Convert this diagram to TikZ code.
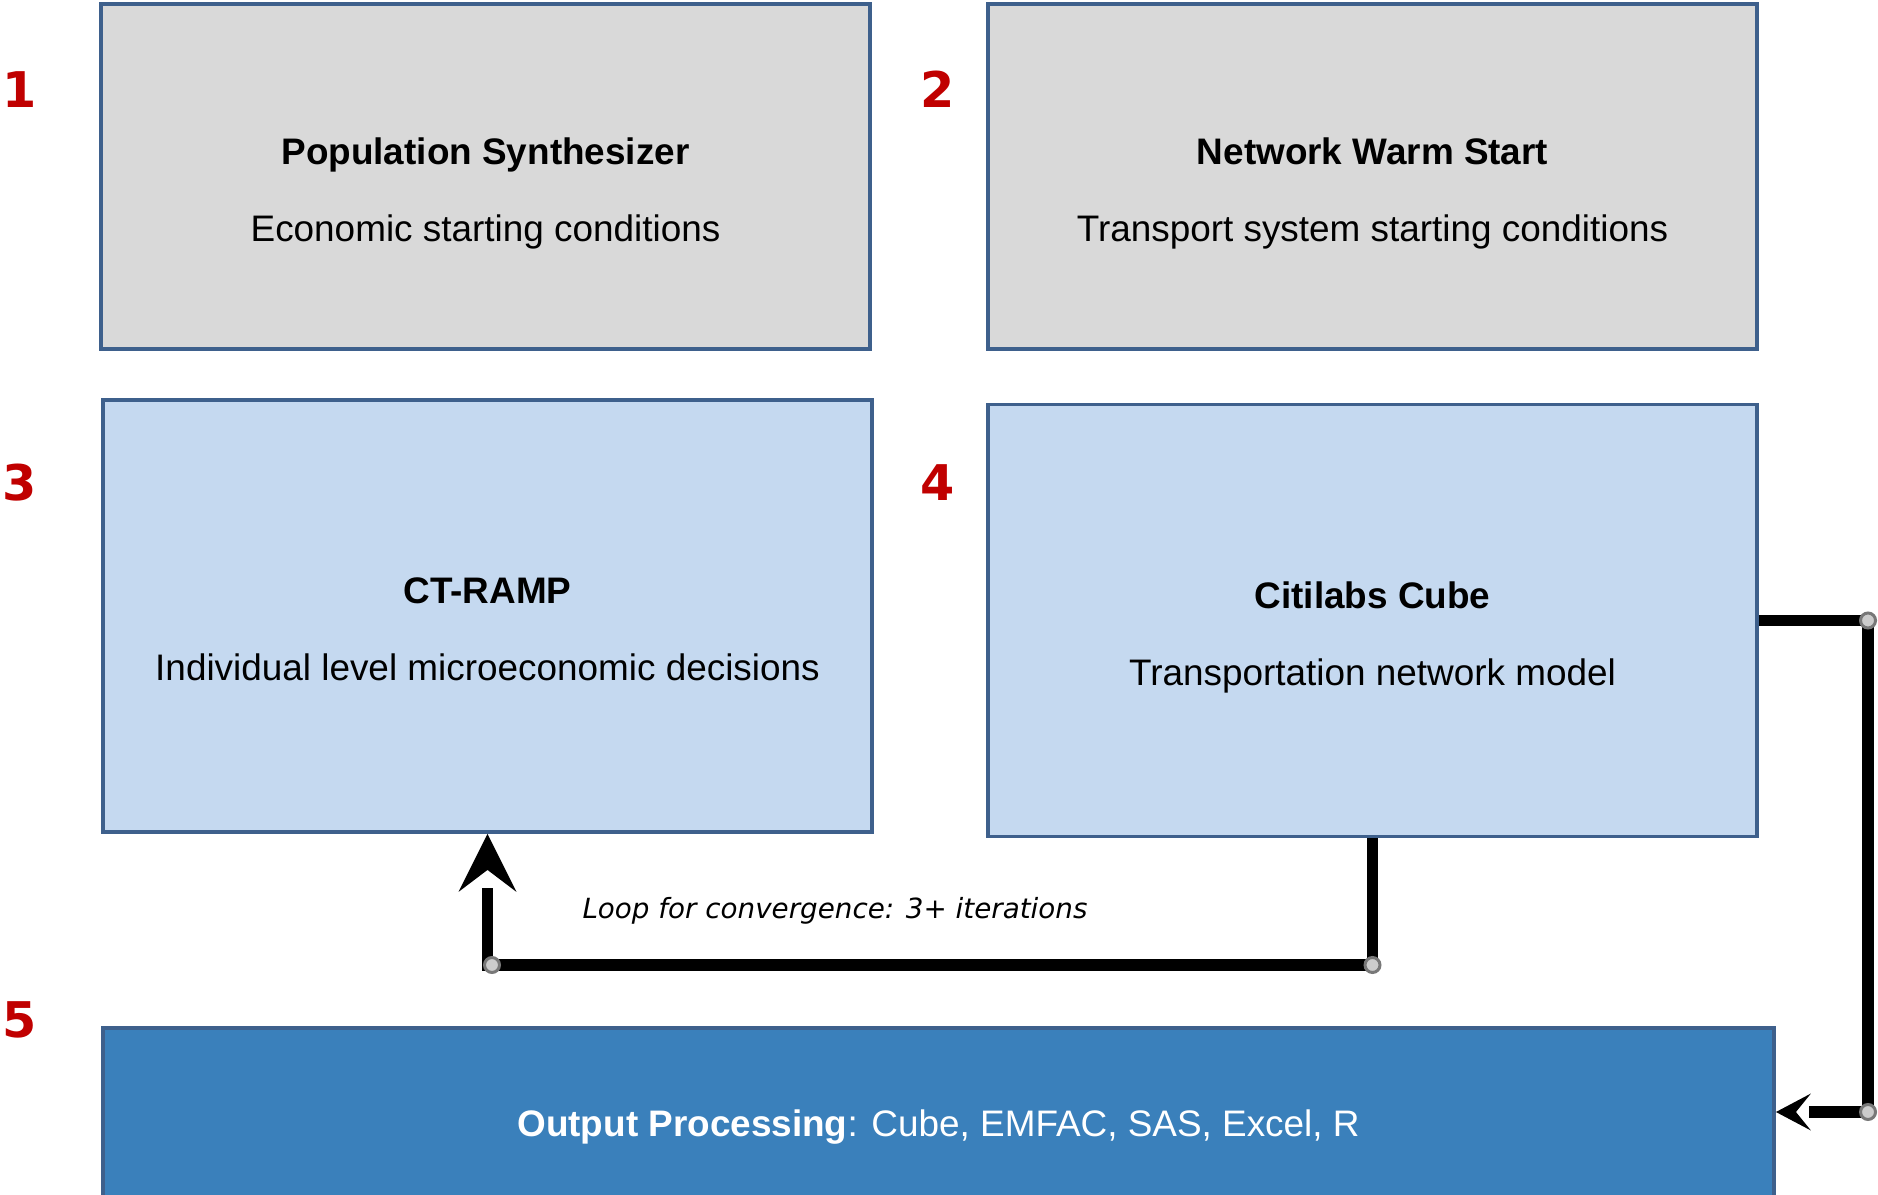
\documentclass[tikz,border=0pt]{standalone}
\usepackage{fontspec}
\setmainfont{Liberation Sans}
\newfontfamily\dejavu{DejaVu Sans}
\usepackage{tikz}
\usetikzlibrary{arrows.meta,positioning}
\definecolor{greyfill}{RGB}{217,217,217}
\definecolor{lightblue}{RGB}{197,217,240}
\definecolor{darkblue}{RGB}{58,128,187}
\definecolor{edgeblue}{RGB}{62,96,140}
\definecolor{numred}{RGB}{192,0,0}
\definecolor{dotgrey}{RGB}{204,204,204}
\definecolor{ringgrey}{RGB}{120,120,120}

\begin{document}
\begin{tikzpicture}[x=0.1mm,y=-0.1mm,line join=miter,
                    font=\fontsize{10.5}{12.6}\selectfont]
  \tikzstyle{greybox}=[draw=edgeblue,line width=1.1pt,fill=greyfill,
                       minimum width=76.9mm,minimum height=34.5mm]
  \tikzstyle{bluebox}=[greybox,fill=lightblue,minimum height=43.2mm]
  \tikzstyle{outbox}=[greybox,fill=darkblue,text=white,
                      minimum width=167.1mm,minimum height=19.8mm]
  \tikzstyle{boxtext}=[align=center,yshift=-1.7mm]
  \tikzstyle{num}=[text=numred,font=\dejavu\bfseries\fontsize{14}{16}\selectfont]
  \tikzstyle{thickline}=[line width=3.4pt]
  \tikzstyle{joint}=[circle,draw=ringgrey,fill=dotgrey,line width=0.85pt,
                     inner sep=0pt,minimum size=1.5mm]

  \useasboundingbox (0,0) rectangle (1878,1195);

  % the five stages
  \node[greybox] (A) at (485.5,176.5) {};
  \node[greybox] (B) [right of=A,node distance=88.7mm] {};
  \node[bluebox] (C) at (487.5,616) {};
  \node[bluebox] (D) at (1372.5,620.5) {};
  \node[outbox]  (E) at (938.5,1127)
    {\textbf{Output Processing}: Cube, EMFAC, SAS, Excel, R};

  \node[boxtext] (A1) at (A) {\textbf{Population Synthesizer}\\[9.3pt]Economic starting conditions};
  \node[boxtext] (B1) at (B) {\textbf{Network Warm Start}\\[9.3pt]Transport system starting conditions};
  \node[boxtext,yshift=1.1pt] (C1) at (C) {\textbf{CT-RAMP}\\[9.3pt]Individual level microeconomic decisions};
  \node[boxtext] (D1) at (D) {\textbf{Citilabs Cube}\\[9.3pt]Transportation network model};

  % step numbers
  \node[num] (N1) at (20,89.5)   {1};
  \node[num] (N2) at (938,89.5)  {2};
  \node[num] (N3) at (20,482.5)  {3};
  \node[num] (N4) at (938,482.5) {4};
  \node[num] (N5) at (20,1020)   {5};

  % connectors
  \coordinate (J1) at (492,965);
  \coordinate (J2) at (1372.5,965);
  \coordinate (J3) at (1868,620.5);
  \coordinate (J4) at (1868,1112);

  \draw[thickline,shorten >=5.4mm]
    (D.south) -- (J2) -- (C.south |- J1) -- (C.south);
  \fill (C.south) -- ++(-29,58) -- ++(29,-22) -- ++(29,22) -- cycle;
  \draw[thickline,shorten >=3.3mm]
    (D.east) -- (J3) -- (J4) -- (E.east |- J4);
  \fill (E.east |- J4) -- ++(35,-18.5) -- ++(-15,18.5) -- ++(15,18.5) -- cycle;

  \node[joint] (P1) at (J1) {};
  \node[joint] (P2) at (J2) {};
  \node[joint] (P3) at (J3) {};
  \node[joint] (P4) at (J4) {};

  \node[font=\dejavu\itshape\fontsize{7.9}{10}\selectfont] (L) at (835,911)
    {Loop for convergence: 3+ iterations};
\end{tikzpicture}
\end{document}
